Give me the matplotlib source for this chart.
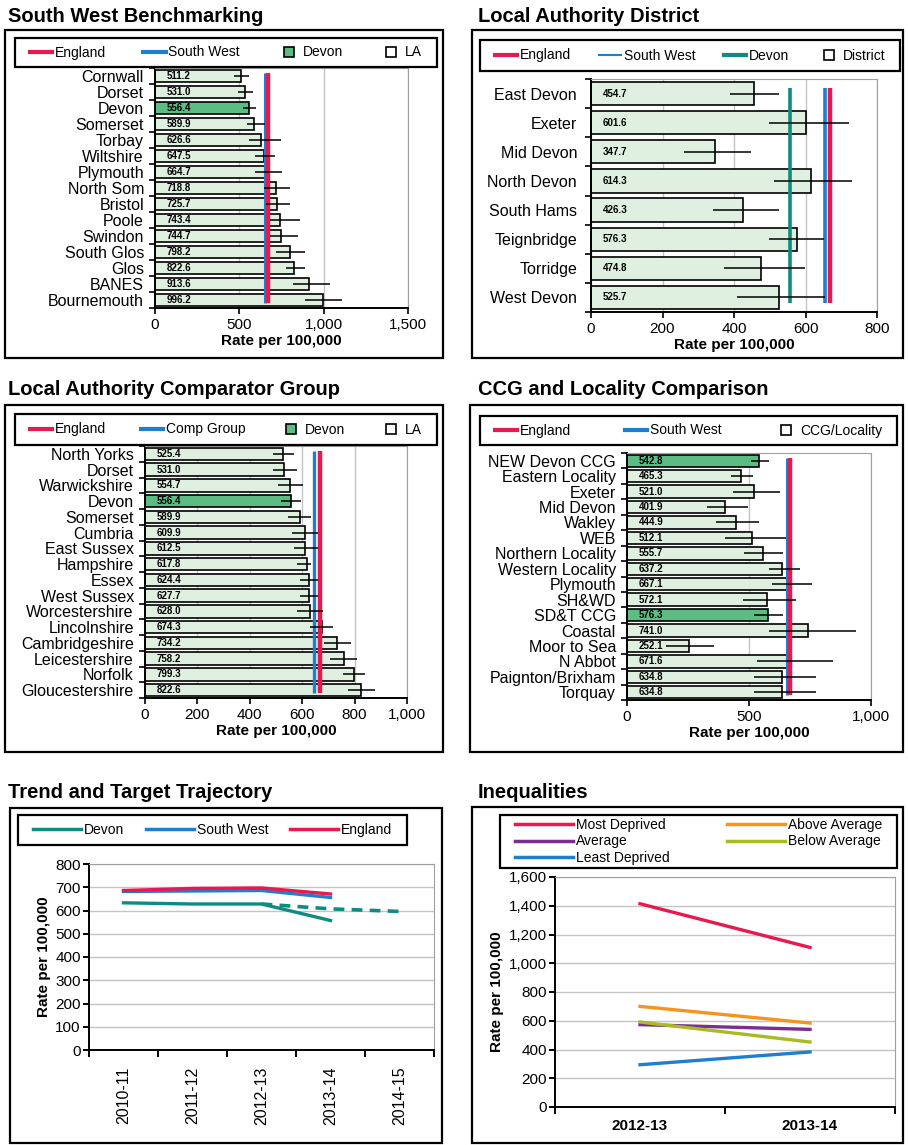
"""
Devon rate per 100,000 dashboard: six comparison panels.
"""

import matplotlib
matplotlib.use("Agg")
import matplotlib.pyplot as plt
from matplotlib.patches import Rectangle
from matplotlib.lines import Line2D
from matplotlib.ticker import FuncFormatter, MultipleLocator
import numpy as np

plt.rcParams["font.family"] = ["Liberation Sans", "DejaVu Sans"]

# ── data ─────────────────────────────────────────────────────
ENGLAND = 668
SOUTH_WEST = 655
DEVON = 556.4

sw_names = ["Cornwall", "Dorset", "Devon", "Somerset", "Torbay", "Wiltshire",
            "Plymouth", "North Som", "Bristol", "Poole", "Swindon",
            "South Glos", "Glos", "BANES", "Bournemouth"]
sw_vals = [511.2, 531.0, 556.4, 589.9, 626.6, 647.5, 664.7, 718.8, 725.7,
           743.4, 744.7, 798.2, 822.6, 913.6, 996.2]
sw_lo = [470, 490, 520, 545, 555, 590, 590, 645, 660, 680, 680, 715, 775, 820, 890]
sw_hi = [558, 580, 600, 650, 745, 710, 755, 800, 800, 860, 850, 890, 890, 1040, 1110]

dist_names = ["East Devon", "Exeter", "Mid Devon", "North Devon", "South Hams",
              "Teignbridge", "Torridge", "West Devon"]
dist_vals = [454.7, 601.6, 347.7, 614.3, 426.3, 576.3, 474.8, 525.7]
dist_lo = [389, 497, 261, 513, 340, 497, 373, 408]
dist_hi = [527, 723, 448, 730, 527, 652, 599, 655]

comp_names = ["North Yorks", "Dorset", "Warwickshire", "Devon", "Somerset",
              "Cumbria", "East Sussex", "Hampshire", "Essex", "West Sussex",
              "Worcestershire", "Lincolnshire", "Cambridgeshire",
              "Leicestershire", "Norfolk", "Gloucestershire"]
comp_vals = [525.4, 531.0, 554.7, 556.4, 589.9, 609.9, 612.5, 617.8, 624.4,
             627.7, 628.0, 674.3, 734.2, 758.2, 799.3, 822.6]
comp_lo = [487, 487, 508, 518, 546, 562, 568, 582, 591, 591, 582, 629, 684, 705, 756, 775]
comp_hi = [568, 582, 604, 597, 635, 661, 661, 635, 661, 661, 680, 718, 785, 811, 841, 879]
COMP_GROUP = 644

ccg_names = ["NEW Devon CCG", "Eastern Locality", "Exeter", "Mid Devon",
             "Wakley", "WEB", "Northern Locality", "Western Locality",
             "Plymouth", "SH&WD", "SD&T CCG", "Coastal", "Moor to Sea",
             "N Abbot", "Paignton/Brixham", "Torquay"]
ccg_vals = [542.8, 465.3, 521.0, 401.9, 444.9, 512.1, 555.7, 637.2, 667.1,
            572.1, 576.3, 741.0, 252.1, 671.6, 634.8, 634.8]
ccg_lo = [508, 426, 434, 327, 366, 400, 480, 580, 596, 475, 521, 580, 161, 532, 521, 521]
ccg_hi = [584, 518, 625, 494, 543, 652, 641, 707, 757, 692, 641, 937, 355, 846, 774, 774]

trend_years = ["2010-11", "2011-12", "2012-13", "2013-14", "2014-15"]
trend_devon = [633, 628, 628, 557]
trend_sw = [682, 684, 686, 656]
trend_england = [686, 695, 697, 671]
trend_target = [628, 607, 596]  # 2012-13 .. 2014-15

ineq_years = ["2012-13", "2013-14"]
ineq_most = [1414, 1110]
ineq_above = [700, 584]
ineq_avg = [573, 540]
ineq_below = [591, 452]
ineq_least = [294, 383]

# ── colours ──────────────────────────────────────────────────
C_ENG = "#E8194F"
C_SW = "#1E7FD0"
C_DEVON_LINE = "#0F8C80"
C_DEVON_BAR = "#5DBB84"
C_BAR = "#DFF0E0"
C_GRID = "#C4C4C4"

W, H = 908, 1145
fig = plt.figure(figsize=(W / 100, H / 100), dpi=100)


def rect(x0, y0, x1, y1):
    return [x0 / W, 1 - y1 / H, (x1 - x0) / W, (y1 - y0) / H]


def frame(x0, y0, x1, y1, lw=1.6):
    fig.add_artist(Rectangle((x0 / W, 1 - y1 / H), (x1 - x0) / W, (y1 - y0) / H,
                             transform=fig.transFigure, fill=False,
                             edgecolor="black", linewidth=lw))


def title(x, y, text):
    fig.text(x / W, 1 - y / H, text, fontsize=14.5, fontweight="bold",
             va="center", ha="left")


def legend(handles, labels, box, ncol, fontsize=10, **kw):
    x0, y0, x1, y1 = box
    frame(x0, y0, x1, y1, lw=1.6)
    fig.legend(handles, labels, ncol=ncol, mode="expand", loc="center",
               bbox_to_anchor=(x0 / W + 0.01, 1 - y1 / H, (x1 - x0) / W - 0.02, (y1 - y0) / H),
               frameon=False, fontsize=fontsize, borderaxespad=0,
               handletextpad=0.2, **kw)


comma = FuncFormatter(lambda v, p: f"{v:,.0f}")


def bar_panel(ax, names, vals, lo, hi, green, refs, xmax, step, label_size):
    n = len(names)
    y = np.arange(n)
    colors = [C_DEVON_BAR if nm in green else C_BAR for nm in names]
    ax.barh(y, vals, height=0.8, color=colors, edgecolor="black", linewidth=1.2, zorder=2)
    for val, colr, lw in refs:
        ax.plot([val, val], [-0.2, n - 0.8], color=colr, linewidth=lw, zorder=3,
                solid_capstyle="butt")
    err = [np.array(vals) - np.array(lo), np.array(hi) - np.array(vals)]
    ax.errorbar(vals, y, xerr=err, fmt="none", ecolor="black", elinewidth=1.1,
                capsize=0, zorder=4)
    for i, v in enumerate(vals):
        ax.annotate(f"{v:.1f}", xy=(0, i), xytext=(8.5, 0), textcoords="offset points",
                    fontsize=7, fontweight="bold", va="center", ha="left", zorder=5)
    ax.set_ylim(n - 0.5, -0.5)
    ax.set_xlim(0, xmax)
    ax.set_yticks(y)
    ax.set_yticklabels(names, fontsize=label_size)
    ax.set_yticks(np.arange(n + 1) - 0.5, minor=True)
    ax.tick_params(axis="y", which="major", length=0, pad=8)
    ax.tick_params(axis="y", which="minor", length=4, width=1.2, direction="out")
    ax.xaxis.set_major_locator(MultipleLocator(step))
    ax.xaxis.set_major_formatter(comma)
    ax.tick_params(axis="x", length=4, width=1.2, direction="out", labelsize=11)
    ax.xaxis.grid(True, color=C_GRID, linewidth=1)
    ax.set_axisbelow(True)
    ax.set_xlabel("Rate per 100,000", fontsize=11, fontweight="bold", labelpad=1)
    for s in ("top", "right"):
        ax.spines[s].set_color("#A0A0A0")
    for s in ("left", "bottom"):
        ax.spines[s].set_linewidth(1.4)


def line_h(colr, lw=3):
    return Line2D([], [], color=colr, linewidth=lw)


def square(face):
    return Line2D([], [], marker="s", linestyle="None", markersize=7,
                  markerfacecolor=face, markeredgecolor="black", markeredgewidth=1.2)


def line_axes_style(ax):
    ax.yaxis.grid(True, color=C_GRID, linewidth=1)
    ax.set_axisbelow(True)
    ax.tick_params(axis="x", which="major", length=5, width=1.4, direction="out")
    ax.tick_params(axis="y", length=4, width=1.4, direction="out", labelsize=11, pad=2)
    ax.set_ylabel("Rate per 100,000", fontsize=11, fontweight="bold", labelpad=3)
    for s in ("top", "right"):
        ax.spines[s].set_color("#A0A0A0")
    for s in ("left", "bottom"):
        ax.spines[s].set_linewidth(1.4)


# ── panel 1: South West Benchmarking ─────────────────────────
title(8, 16, "South West Benchmarking")
frame(5, 30, 443, 358)
legend([line_h(C_ENG), line_h(C_SW), square(C_DEVON_BAR), square("white")],
       ["England", "South West", "Devon", "LA"], (15, 38, 437, 67), 4,
       handlelength=1.6)
ax1 = fig.add_axes(rect(155, 68, 408, 308))
bar_panel(ax1, sw_names, sw_vals, sw_lo, sw_hi, {"Devon"},
          [(SOUTH_WEST, C_SW, 2.2), (ENGLAND, C_ENG, 3.2)], 1500, 500, 11.5)

# ── panel 2: Local Authority District ────────────────────────
title(478, 16, "Local Authority District")
frame(472, 30, 903, 358)
legend([line_h(C_ENG), line_h(C_SW, 1.5), line_h(C_DEVON_LINE), square("white")],
       ["England", "South West", "Devon", "District"], (480, 40, 900, 71), 4,
       handlelength=1.6)
ax2 = fig.add_axes(rect(591, 79, 877, 312))
bar_panel(ax2, dist_names, dist_vals, dist_lo, dist_hi, set(),
          [(DEVON, C_DEVON_LINE, 2.6), (SOUTH_WEST, C_SW, 2.6), (ENGLAND, C_ENG, 3.2)],
          800, 200, 11.5)
ax2.tick_params(axis="y", which="major", pad=10)

# ── panel 3: Local Authority Comparator Group ────────────────
title(8, 389, "Local Authority Comparator Group")
frame(5, 405, 443, 752)
legend([line_h(C_ENG), line_h(C_SW), square(C_DEVON_BAR), square("white")],
       ["England", "Comp Group", "Devon", "LA"], (15, 414, 437, 445), 4,
       handlelength=1.6)
ax3 = fig.add_axes(rect(145, 446, 407, 698))
bar_panel(ax3, comp_names, comp_vals, comp_lo, comp_hi, {"Devon"},
          [(COMP_GROUP, C_SW, 2.4), (ENGLAND, C_ENG, 3.2)], 1000, 200, 11.5)

# ── panel 4: CCG and Locality Comparison ─────────────────────
title(478, 389, "CCG and Locality Comparison")
frame(470, 405, 903, 752)
legend([line_h(C_ENG), line_h(C_SW), square("white")],
       ["England", "South West", "CCG/Locality"], (480, 416, 897, 445), 3,
       handlelength=1.6)
ax4 = fig.add_axes(rect(627, 453, 871, 700))
bar_panel(ax4, ccg_names, ccg_vals, ccg_lo, ccg_hi, {"NEW Devon CCG", "SD&T CCG"},
          [(SOUTH_WEST, C_SW, 2.2), (ENGLAND, C_ENG, 3.2)], 1000, 500, 11.5)

# ── panel 5: Trend and Target Trajectory ─────────────────────
title(8, 792, "Trend and Target Trajectory")
frame(10, 808, 442, 1143)
legend([line_h(C_DEVON_LINE, 2.5), line_h(C_SW, 2.5), line_h(C_ENG, 2.5)],
       ["Devon", "South West", "England"], (18, 815, 407, 845), 3,
       handlelength=3.5)
ax5 = fig.add_axes(rect(89, 864, 434, 1050))
xs = np.arange(len(trend_years)) + 0.5
ax5.plot(xs[:4], trend_sw, color=C_SW, linewidth=2.4, zorder=3)
ax5.plot(xs[:4], trend_england, color=C_ENG, linewidth=2.4, zorder=3)
ax5.plot(xs[:4], trend_devon, color=C_DEVON_LINE, linewidth=2.4, zorder=3)
ax5.plot(xs[2:], trend_target, color=C_DEVON_LINE, linewidth=2.6,
         linestyle=(0, (3, 2)), zorder=3)
ax5.set_xlim(0, len(trend_years))
ax5.set_ylim(0, 800)
ax5.yaxis.set_major_locator(MultipleLocator(100))
ax5.set_xticks(np.arange(len(trend_years) + 1))
ax5.set_xticklabels([])
ax5.set_xticks(xs, minor=True)
ax5.set_xticklabels(trend_years, minor=True, rotation=90, fontsize=11.5)
ax5.tick_params(axis="x", which="minor", length=0, pad=12)
line_axes_style(ax5)

# ── panel 6: Inequalities ────────────────────────────────────
title(478, 792, "Inequalities")
frame(472, 807, 903, 1143)
ineq_series = [("Most Deprived", ineq_most, C_ENG),
               ("Average", ineq_avg, "#7A2E8F"),
               ("Least Deprived", ineq_least, C_SW),
               ("Above Average", ineq_above, "#F7941D"),
               ("Below Average", ineq_below, "#A9BA22")]
legend([line_h(c, 2.5) for _, _, c in ineq_series], [nm for nm, _, _ in ineq_series],
       (500, 815, 897, 868), 2, handlelength=4.2, labelspacing=0.2)
ax6 = fig.add_axes(rect(555, 877, 895, 1107))
xi = np.arange(len(ineq_years)) + 0.5
for nm, vals, c in ineq_series:
    ax6.plot(xi, vals, color=c, linewidth=2.4, zorder=3)
ax6.set_xlim(0, len(ineq_years))
ax6.set_ylim(0, 1600)
ax6.yaxis.set_major_locator(MultipleLocator(200))
ax6.yaxis.set_major_formatter(comma)
ax6.set_xticks(np.arange(len(ineq_years) + 1))
ax6.set_xticklabels([])
ax6.set_xticks(xi, minor=True)
ax6.set_xticklabels(ineq_years, minor=True, fontsize=11, fontweight="bold")
ax6.tick_params(axis="x", which="minor", length=0, pad=9)
line_axes_style(ax6)

fig.savefig("out.png", dpi=100)
